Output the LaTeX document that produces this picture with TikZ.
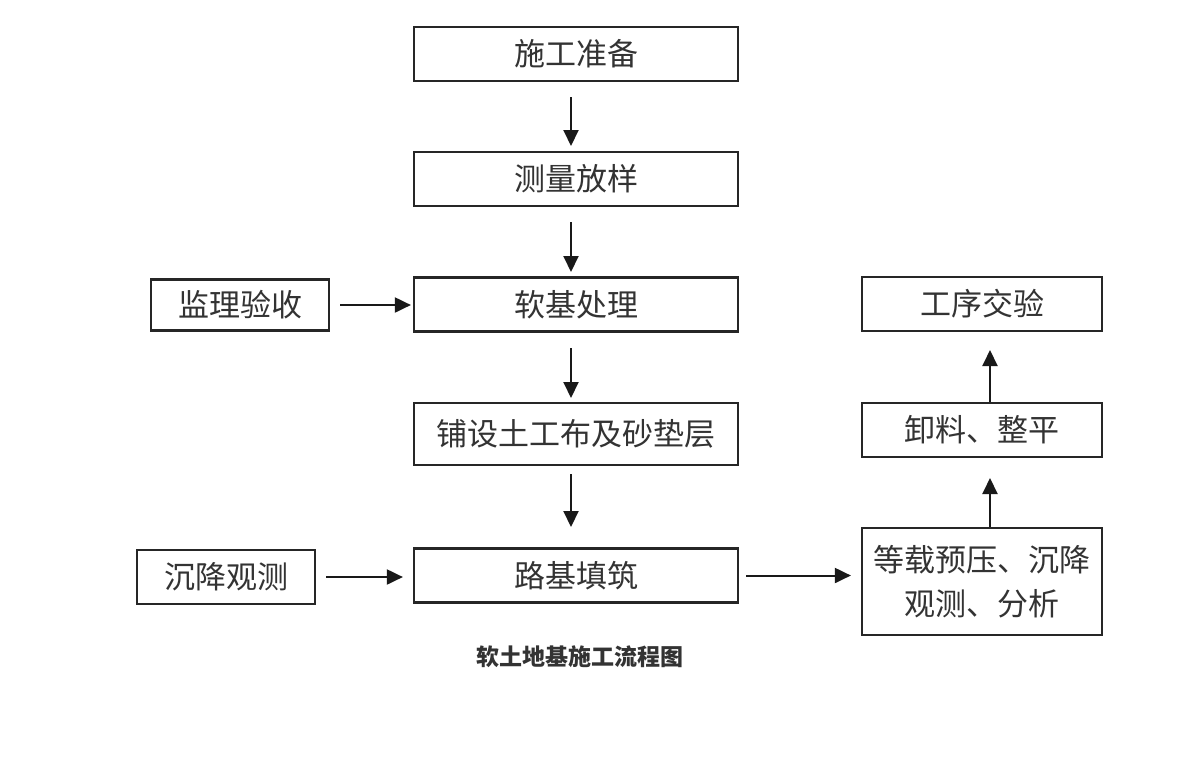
\documentclass[tikz,border=0pt]{standalone}
\usepackage{fontspec}
\setmainfont{Noto Sans CJK SC}
\usetikzlibrary{arrows.meta}
\begin{document}
\begin{tikzpicture}[x=1pt,y=-1pt,
  box/.style={draw=black!85,line width=2.2pt,minimum height=54pt,inner sep=0pt,align=center,font=\fontsize{31}{40}\selectfont,text=black!80},
  conn/.style={line width=2pt,draw=black!90,-{Triangle[length=16pt,width=15pt]}}]
\useasboundingbox[fill=white] (0,0) rectangle (1200,772);
\node[box,minimum width=324pt] (a) at (576,54) {施工准备};
\node[box,minimum width=324pt] (b) at (576,179) {测量放样};
\node[box,minimum width=324pt] (c) at (576,304.5) {软基处理};
\node[box,minimum width=324pt,minimum height=62pt] (d) at (576,434) {铺设土工布及砂垫层};
\node[box,minimum width=324pt] (e) at (576,575.5) {路基填筑};
\node[box,minimum width=178pt,minimum height=51pt] (f) at (240,305) {监理验收};
\node[box,minimum width=178pt] (g) at (226,577) {沉降观测};
\node[box,minimum width=240pt] (h) at (982,304) {工序交验};
\node[box,minimum width=240pt] (i) at (982,430) {卸料、整平};
\node[box,minimum width=240pt,minimum height=107pt,font=\fontsize{31}{44}\selectfont] (j) at (982,581.5) {等载预压、沉降\\观测、分析};
\node[font=\fontsize{23}{26}\selectfont\bfseries,text=black!80] (cap) at (580,657) {软土地基施工流程图};
\draw[conn] (571,97) -- (571,146);
\draw[conn] (571,222) -- (571,272);
\draw[conn] (571,348) -- (571,398);
\draw[conn] (571,474) -- (571,527);
\draw[conn] ([xshift=10pt]f.east) -- ([xshift=-2pt]c.west |- f.east);
\draw[conn] ([xshift=10pt]g.east) -- ([xshift=-10pt]e.west |- g.east);
\draw[conn] ([xshift=7pt]e.east) -- ([xshift=-10pt]j.west |- e.east);
\draw[conn] (j.north -| 990,0) -- (990,478);
\draw[conn] (i.north -| 990,0) -- (990,350);
\end{tikzpicture}
\end{document}
